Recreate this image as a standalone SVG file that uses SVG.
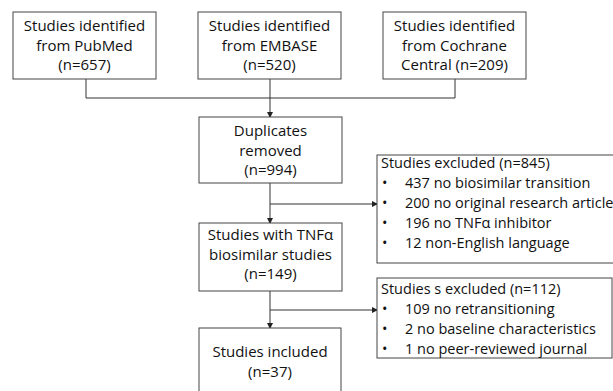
<svg xmlns="http://www.w3.org/2000/svg" width="613" height="391" viewBox="0 0 613 391">
<defs>
<marker id="ah" markerWidth="6" markerHeight="6" refX="5" refY="3" orient="auto" markerUnits="userSpaceOnUse">
<path d="M0,0 L6,3 L0,6 z" fill="#222"/>
</marker>
<style>
.box{fill:#fff;stroke:#444;stroke-width:1}
.t{font-family:"Open Sans","Liberation Sans",sans-serif;font-size:15px;fill:#111}
.s{font-size:14.5px}
.c{text-anchor:middle}
.ln{fill:none;stroke:#333;stroke-width:1}
</style>
</defs>
<rect width="613" height="391" fill="#fff"/>
<g id="connectors">
<path class="ln" d="M86,79 V98 H455 V79"/>
<path class="ln" d="M270,79 V117" marker-end="url(#ah)"/>
<path class="ln" d="M270,183 V223" marker-end="url(#ah)"/>
<path class="ln" d="M270,204 H377" marker-end="url(#ah)"/>
<path class="ln" d="M270,291 V328" marker-end="url(#ah)"/>
<path class="ln" d="M270,310 H377" marker-end="url(#ah)"/>
</g>
<g id="pubmed">
<rect class="box" x="13" y="12" width="143" height="67"/>
<text class="t c" x="84.5" y="31">Studies identified</text>
<text class="t c" x="84.5" y="51">from PubMed</text>
<text class="t c" x="84.5" y="70">(n=657)</text>
</g>
<g id="embase">
<rect class="box" x="198" y="12" width="143" height="67"/>
<text class="t c" x="269.5" y="31">Studies identified</text>
<text class="t c" x="269.5" y="51">from EMBASE</text>
<text class="t c" x="269.5" y="70">(n=520)</text>
</g>
<g id="cochrane">
<rect class="box" x="383" y="12" width="143" height="67"/>
<text class="t c" x="454.5" y="31">Studies identified</text>
<text class="t c" x="454.5" y="51">from Cochrane</text>
<text class="t c" x="454.5" y="70">Central (n=209)</text>
</g>
<g id="duplicates">
<rect class="box" x="199" y="117" width="143" height="66"/>
<text class="t c" x="270.5" y="136">Duplicates</text>
<text class="t c" x="270.5" y="156">removed</text>
<text class="t c" x="270.5" y="175">(n=994)</text>
</g>
<g id="excluded1">
<rect class="box" x="377" y="155" width="240" height="108"/>
<text class="t s" x="381" y="168">Studies excluded (n=845)</text>
<text class="t s" x="382" y="188">•</text><text class="t s" x="405" y="188">437 no biosimilar transition</text>
<text class="t s" x="382" y="208">•</text><text class="t s" x="405" y="208">200 no original research article</text>
<text class="t s" x="382" y="228">•</text><text class="t s" x="405" y="228">196 no TNFα inhibitor</text>
<text class="t s" x="382" y="248">•</text><text class="t s" x="405" y="248">12 non-English language</text>
</g>
<g id="tnf">
<rect class="box" x="199" y="223" width="143" height="68"/>
<text class="t c" x="270.5" y="240">Studies with TNFα</text>
<text class="t c" x="270.5" y="260">biosimilar studies</text>
<text class="t c" x="270.5" y="279">(n=149)</text>
</g>
<g id="excluded2">
<rect class="box" x="377" y="278" width="235" height="80"/>
<text class="t s" x="381" y="294">Studies s excluded (n=112)</text>
<text class="t s" x="382" y="314">•</text><text class="t s" x="405" y="314">109 no retransitioning</text>
<text class="t s" x="382" y="334">•</text><text class="t s" x="405" y="334">2 no baseline characteristics</text>
<text class="t s" x="382" y="354">•</text><text class="t s" x="405" y="354">1 no peer-reviewed journal</text>
</g>
<g id="included">
<rect class="box" x="199" y="328" width="142" height="70"/>
<text class="t c" x="270" y="357">Studies included</text>
<text class="t c" x="270" y="377">(n=37)</text>
</g>
</svg>
